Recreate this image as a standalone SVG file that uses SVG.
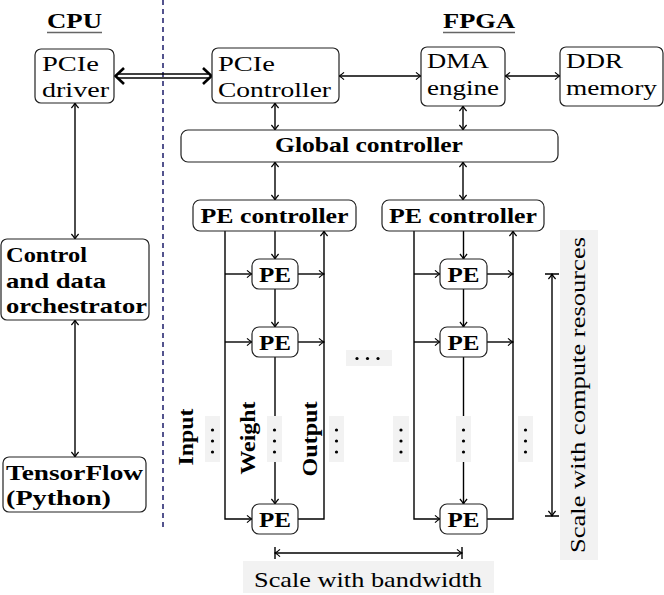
<svg xmlns="http://www.w3.org/2000/svg" width="664" height="595" viewBox="0 0 664 595" font-family="'Liberation Serif', 'DejaVu Serif', serif">
<style>
.t{font-family:'Liberation Serif','DejaVu Serif',serif;font-size:21px;fill:#000}
.b{font-weight:bold}
.m{text-anchor:middle}
.box{fill:#fff;stroke:#222;stroke-width:1.2}
.ln{fill:none;stroke:#000;stroke-width:1.4}
.gb{fill:#f2f2f2;stroke:none}
.dot{fill:#000}
.ul{stroke:#666;stroke-width:1.3}
</style>
<defs>
<marker id="a" viewBox="-6 -5 7 10" refX="0" refY="0" markerWidth="7" markerHeight="10" markerUnits="userSpaceOnUse" orient="auto-start-reverse">
<path d="M-5,-3.6 Q-2.2,-1 0,0 Q-2.2,1 -5,3.6" fill="none" stroke="#000" stroke-width="1.2"/>
</marker>
</defs>

<line x1="163" y1="0" x2="163" y2="530" stroke="#1b1b6a" stroke-width="1.5" stroke-dasharray="5 4"/>

<g id="titles">
<text class="t b m" x="74.5" y="28" textLength="55" lengthAdjust="spacingAndGlyphs">CPU</text>
<line class="ul" x1="47" y1="32.5" x2="102" y2="32.5"/>
<text class="t b m" x="479" y="28" textLength="72" lengthAdjust="spacingAndGlyphs">FPGA</text>
<line class="ul" x1="443" y1="32.5" x2="515" y2="32.5"/>
</g>

<g id="connectors">
<line x1="118" y1="74" x2="208" y2="74" stroke="#000" stroke-width="1.4"/>
<line x1="118" y1="78" x2="208" y2="78" stroke="#000" stroke-width="1.4"/>
<path d="M124,68 L115.5,76 L124,84" fill="none" stroke="#000" stroke-width="2.6"/>
<path d="M203,68 L211.5,76 L203,84" fill="none" stroke="#000" stroke-width="2.6"/>
<line class="ln" x1="339" y1="76" x2="421" y2="76" marker-start="url(#a)" marker-end="url(#a)"/>
<line class="ln" x1="505" y1="76" x2="560" y2="76" marker-start="url(#a)" marker-end="url(#a)"/>
<line class="ln" x1="275" y1="103" x2="275" y2="130" marker-start="url(#a)" marker-end="url(#a)"/>
<line class="ln" x1="463" y1="106" x2="463" y2="130" marker-start="url(#a)" marker-end="url(#a)"/>
<line class="ln" x1="275" y1="162" x2="275" y2="200" marker-start="url(#a)" marker-end="url(#a)"/>
<line class="ln" x1="463" y1="162" x2="463" y2="200" marker-start="url(#a)" marker-end="url(#a)"/>
<line class="ln" x1="75" y1="103" x2="75" y2="239" marker-start="url(#a)" marker-end="url(#a)"/>
<line class="ln" x1="75" y1="320" x2="75" y2="457" marker-start="url(#a)" marker-end="url(#a)"/>

<path class="ln" d="M225,231 V519 H252" marker-end="url(#a)"/>
<path class="ln" d="M225,274 H252" marker-end="url(#a)"/>
<path class="ln" d="M225,342 H252" marker-end="url(#a)"/>
<path class="ln" d="M275,231 V259" marker-end="url(#a)"/>
<path class="ln" d="M275,289 V327" marker-end="url(#a)"/>
<path class="ln" d="M275,357 V416"/>
<path class="ln" d="M275,462 V504" marker-end="url(#a)"/>
<path class="ln" d="M298,519 H324 V231" marker-end="url(#a)"/>
<path class="ln" d="M298,274 H324" marker-end="url(#a)"/>
<path class="ln" d="M298,342 H324" marker-end="url(#a)"/>

<path class="ln" d="M414,231 V519 H440" marker-end="url(#a)"/>
<path class="ln" d="M414,274 H440" marker-end="url(#a)"/>
<path class="ln" d="M414,342 H440" marker-end="url(#a)"/>
<path class="ln" d="M463.5,231 V259" marker-end="url(#a)"/>
<path class="ln" d="M463.5,289 V327" marker-end="url(#a)"/>
<path class="ln" d="M463.5,357 V416"/>
<path class="ln" d="M463.5,462 V504" marker-end="url(#a)"/>
<path class="ln" d="M487,519 H513 V231" marker-end="url(#a)"/>
<path class="ln" d="M487,274 H513" marker-end="url(#a)"/>
<path class="ln" d="M487,342 H513" marker-end="url(#a)"/>

<line class="ln" x1="275" y1="553" x2="462" y2="553" marker-start="url(#a)" marker-end="url(#a)"/>
<path class="ln" d="M275,547 V559 M462,547 V559"/>
<line class="ln" x1="552" y1="274" x2="552" y2="516" marker-start="url(#a)" marker-end="url(#a)"/>
<path class="ln" d="M545,274 H559 M545,516 H559"/>
</g>

<g id="pcie-driver">
<rect class="box" x="35" y="49" width="79" height="54" rx="6"/>
<text class="t" x="42" y="71" textLength="57" lengthAdjust="spacingAndGlyphs">PCIe</text>
<text class="t" x="42" y="97" textLength="67" lengthAdjust="spacingAndGlyphs">driver</text>
</g>
<g id="pcie-controller">
<rect class="box" x="212" y="48" width="127" height="55" rx="6"/>
<text class="t" x="218" y="71" textLength="57" lengthAdjust="spacingAndGlyphs">PCIe</text>
<text class="t" x="218" y="97" textLength="113" lengthAdjust="spacingAndGlyphs">Controller</text>
</g>
<g id="dma-engine">
<rect class="box" x="421" y="47" width="84" height="59" rx="6"/>
<text class="t" x="427" y="68" textLength="62" lengthAdjust="spacingAndGlyphs">DMA</text>
<text class="t" x="427" y="95" textLength="72" lengthAdjust="spacingAndGlyphs">engine</text>
</g>
<g id="ddr-memory">
<rect class="box" x="560" y="47" width="103" height="59" rx="6"/>
<text class="t" x="566" y="68" textLength="57" lengthAdjust="spacingAndGlyphs">DDR</text>
<text class="t" x="566" y="95" textLength="91" lengthAdjust="spacingAndGlyphs">memory</text>
</g>
<g id="global-controller">
<rect class="box" x="181" y="130" width="377" height="32" rx="7"/>
<text class="t b m" x="369" y="152" textLength="188" lengthAdjust="spacingAndGlyphs">Global controller</text>
</g>
<g id="pe-controller-1">
<rect class="box" x="193" y="200" width="163" height="31" rx="7"/>
<text class="t b m" x="274.5" y="223" textLength="148" lengthAdjust="spacingAndGlyphs">PE controller</text>
</g>
<g id="pe-controller-2">
<rect class="box" x="382" y="200" width="162" height="31" rx="7"/>
<text class="t b m" x="463" y="223" textLength="148" lengthAdjust="spacingAndGlyphs">PE controller</text>
</g>

<g id="pe-1-1"><rect class="box" x="252" y="259" width="46" height="30" rx="7"/><text class="t b m" x="275" y="282" textLength="32" lengthAdjust="spacingAndGlyphs">PE</text></g>
<g id="pe-1-2"><rect class="box" x="252" y="327" width="46" height="30" rx="7"/><text class="t b m" x="275" y="350" textLength="32" lengthAdjust="spacingAndGlyphs">PE</text></g>
<g id="pe-1-n"><rect class="box" x="252" y="504" width="46" height="30" rx="7"/><text class="t b m" x="275" y="527" textLength="32" lengthAdjust="spacingAndGlyphs">PE</text></g>
<g id="pe-2-1"><rect class="box" x="440" y="259" width="47" height="30" rx="7"/><text class="t b m" x="463.5" y="282" textLength="32" lengthAdjust="spacingAndGlyphs">PE</text></g>
<g id="pe-2-2"><rect class="box" x="440" y="327" width="47" height="30" rx="7"/><text class="t b m" x="463.5" y="350" textLength="32" lengthAdjust="spacingAndGlyphs">PE</text></g>
<g id="pe-2-n"><rect class="box" x="440" y="504" width="47" height="30" rx="7"/><text class="t b m" x="463.5" y="527" textLength="32" lengthAdjust="spacingAndGlyphs">PE</text></g>

<g id="orchestrator">
<rect class="box" x="1" y="239" width="148" height="81" rx="6"/>
<text class="t b" x="6" y="262" textLength="81" lengthAdjust="spacingAndGlyphs">Control</text>
<text class="t b" x="6" y="288" textLength="100" lengthAdjust="spacingAndGlyphs">and data</text>
<text class="t b" x="6" y="313" textLength="141" lengthAdjust="spacingAndGlyphs">orchestrator</text>
</g>
<g id="tensorflow">
<rect class="box" x="3" y="457" width="143" height="55" rx="6"/>
<text class="t b" x="6" y="480" textLength="137" lengthAdjust="spacingAndGlyphs">TensorFlow</text>
<text class="t b" x="6" y="505" textLength="105" lengthAdjust="spacingAndGlyphs">(Python)</text>
</g>

<g id="ellipses">
<rect class="gb" x="205" y="416" width="15" height="46"/>
<rect class="gb" x="267" y="416" width="15" height="46"/>
<rect class="gb" x="329" y="416" width="15" height="46"/>
<rect class="gb" x="393" y="416" width="16" height="46"/>
<rect class="gb" x="456" y="416" width="15" height="46"/>
<rect class="gb" x="518" y="416" width="15" height="46"/>
<rect class="gb" x="346" y="350" width="46" height="16"/>
<g class="dot">
<circle cx="212.5" cy="430" r="1.6"/><circle cx="212.5" cy="441" r="1.6"/><circle cx="212.5" cy="452" r="1.6"/>
<circle cx="274.5" cy="430" r="1.6"/><circle cx="274.5" cy="441" r="1.6"/><circle cx="274.5" cy="452" r="1.6"/>
<circle cx="336.5" cy="430" r="1.6"/><circle cx="336.5" cy="441" r="1.6"/><circle cx="336.5" cy="452" r="1.6"/>
<circle cx="401" cy="430" r="1.6"/><circle cx="401" cy="441" r="1.6"/><circle cx="401" cy="452" r="1.6"/>
<circle cx="463.5" cy="430" r="1.6"/><circle cx="463.5" cy="441" r="1.6"/><circle cx="463.5" cy="452" r="1.6"/>
<circle cx="525.5" cy="430" r="1.6"/><circle cx="525.5" cy="441" r="1.6"/><circle cx="525.5" cy="452" r="1.6"/>
<circle cx="357" cy="358.5" r="1.6"/><circle cx="367.5" cy="358.5" r="1.6"/><circle cx="378" cy="358.5" r="1.6"/>
</g>
</g>

<g id="labels">
<text class="t b m" transform="translate(193,437) rotate(-90)" textLength="57" lengthAdjust="spacingAndGlyphs">Input</text>
<text class="t b m" transform="translate(255,438) rotate(-90)" textLength="73" lengthAdjust="spacingAndGlyphs">Weight</text>
<text class="t b m" transform="translate(317,439) rotate(-90)" textLength="75" lengthAdjust="spacingAndGlyphs">Output</text>
<rect class="gb" x="243" y="561" width="251" height="32"/>
<text class="t m" x="368" y="587" textLength="228" lengthAdjust="spacingAndGlyphs">Scale with bandwidth</text>
<rect class="gb" x="560" y="230" width="38" height="330"/>
<text class="t m" transform="translate(585,395) rotate(-90)" textLength="316" lengthAdjust="spacingAndGlyphs">Scale with compute resources</text>
</g>
</svg>
